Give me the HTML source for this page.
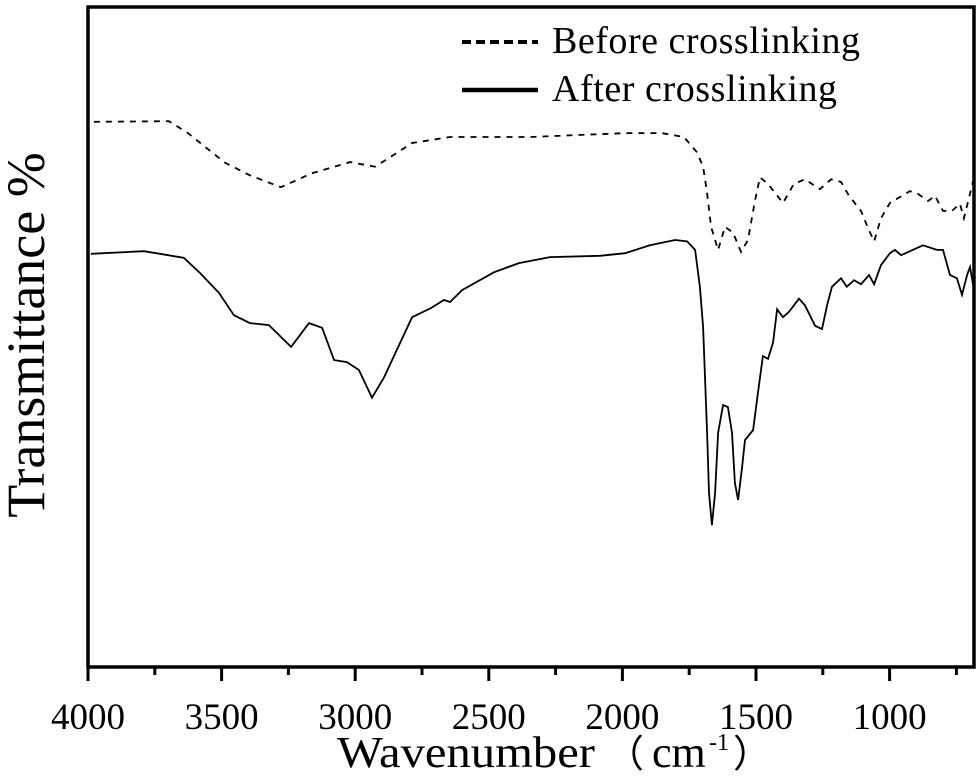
<!DOCTYPE html>
<html><head><meta charset="utf-8"><style>
html,body{margin:0;padding:0;background:#fff;}
svg{display:block;font-family:"Liberation Serif",serif;}
</style></head><body>
<svg id="chart" width="980" height="777" viewBox="0 0 980 777" xmlns="http://www.w3.org/2000/svg">
<rect x="88" y="7" width="886" height="660" fill="none" stroke="#000" stroke-width="3.5"/>
<g id="ticks"></g>
<g id="series"></g>
<g>
<line x1="462" y1="42" x2="538" y2="42" stroke="#000" stroke-width="4" stroke-dasharray="9,5"/>
<text x="552" y="53" font-size="38" textLength="308">Before crosslinking</text>
<line x1="462" y1="90" x2="538" y2="90" stroke="#000" stroke-width="4.5"/>
<text x="552" y="101" font-size="38" textLength="285">After crosslinking</text>
</g>
<text transform="translate(44,335) rotate(-90)" text-anchor="middle" font-size="54">Transmittance %</text>
<g>
<text x="337" y="767" font-size="44" textLength="258" lengthAdjust="spacingAndGlyphs">Wavenumber</text>
<text x="606" y="767" font-family="'Noto Sans CJK SC', sans-serif" font-size="38">（</text>
<text x="652" y="767" font-size="44">cm</text>
<text x="709" y="750" font-size="24">-1</text>
<text x="733" y="767" font-family="'Noto Sans CJK SC', sans-serif" font-size="38">）</text>
</g>
</svg>
<script>
const tickValues=[4000,3500,3000,2500,2000,1500,1000];
const minorTicks=[3750,3250,2750,2250,1750,1250,750];
const afterW=[3989,3790,3641,3581,3510,3454,3394,3323,3240,3173,3124,3079,3031,2986,2937,2892,2832,2787,2716,2668,2645,2600,2481,2387,2271,2084,1990,1897,1803,1758,1728,1710,1698,1683,1676,1665,1653,1642,1623,1605,1590,1579,1567,1552,1541,1511,1493,1474,1455,1436,1421,1399,1377,1339,1317,1279,1253,1234,1216,1182,1160,1133,1107,1077,1058,1032,999,980,957,875,823,800,774,748,729,710,699,684];
const afterT=[62.6,63.0,62.0,59.7,56.7,53.3,52.1,51.8,48.5,52.1,51.4,46.5,46.2,45.0,40.8,43.9,49.1,53.0,54.4,55.6,55.3,57.1,59.8,61.2,62.1,62.3,62.7,63.9,64.7,64.5,63.2,57.6,51.5,35.5,26.4,21.5,26.4,35.5,39.7,39.4,35.5,27.9,25.3,30.3,34.4,35.9,41.5,47.1,46.7,49.2,54.2,53.0,53.8,55.8,54.8,51.7,51.2,54.8,57.6,58.9,57.6,58.6,58.0,59.4,58.0,60.9,62.7,63.2,62.4,63.9,63.2,63.2,59.4,58.9,56.4,59.4,60.6,57.1];
const beforeW=[3978,3697,3626,3487,3394,3278,3162,3019,2926,2855,2787,2645,2342,1990,1852,1770,1721,1698,1683,1668,1642,1616,1586,1556,1530,1504,1485,1455,1399,1358,1317,1261,1219,1182,1152,1107,1081,1058,1032,999,924,894,856,830,800,767,737,722,699,688];
const beforeT=[82.6,82.7,80.9,76.4,74.5,72.7,74.8,76.5,75.8,77.6,79.4,80.3,80.3,80.9,80.9,80.3,78.0,75.8,71.8,66.7,63.2,66.7,65.8,62.9,64.7,70.6,74.2,73.2,70.3,73.2,73.9,72.4,73.9,73.5,71.4,69.1,66.5,64.5,68.0,70.3,72.1,71.7,70.6,71.4,69.1,69.1,70.2,68.0,71.7,73.6];
const NS="http://www.w3.org/2000/svg";
const X=w=>88+(4000-w)/500*133.6;
const Y=t=>667-t*6.6;
const tg=document.getElementById('ticks');
tickValues.forEach(v=>{
  const l=document.createElementNS(NS,'line');
  l.setAttribute('x1',X(v));l.setAttribute('x2',X(v));l.setAttribute('y1',667);l.setAttribute('y2',681);
  l.setAttribute('stroke','#000');l.setAttribute('stroke-width','3');
  
  
  tg.appendChild(l);
  const t=document.createElementNS(NS,'text');
  t.setAttribute('x',X(v));t.setAttribute('y',729);t.setAttribute('text-anchor','middle');t.setAttribute('font-size','37');
  t.textContent=v;
  
  
  tg.appendChild(t);
});
minorTicks.forEach(v=>{
  const l=document.createElementNS(NS,'line');
  l.setAttribute('x1',X(v));l.setAttribute('x2',X(v));l.setAttribute('y1',667);l.setAttribute('y2',675);
  l.setAttribute('stroke','#000');l.setAttribute('stroke-width','3');
  
  
  tg.appendChild(l);
});
const sg=document.getElementById('series');
function draw(ws,ts,dash,name){
  const p=document.createElementNS(NS,'path');
  p.setAttribute('d',ws.map((w,i)=>(i?'L':'M')+X(w).toFixed(1)+' '+Y(ts[i]).toFixed(1)).join(' '));
  p.setAttribute('fill','none');p.setAttribute('stroke','#000');p.setAttribute('stroke-width','1.8');
  if(dash)p.setAttribute('stroke-dasharray',dash);
  
  
  sg.appendChild(p);
}
draw(beforeW,beforeT,'6,6','before-crosslinking-line');
draw(afterW,afterT,null,'after-crosslinking-line');
</script>
</body></html>
